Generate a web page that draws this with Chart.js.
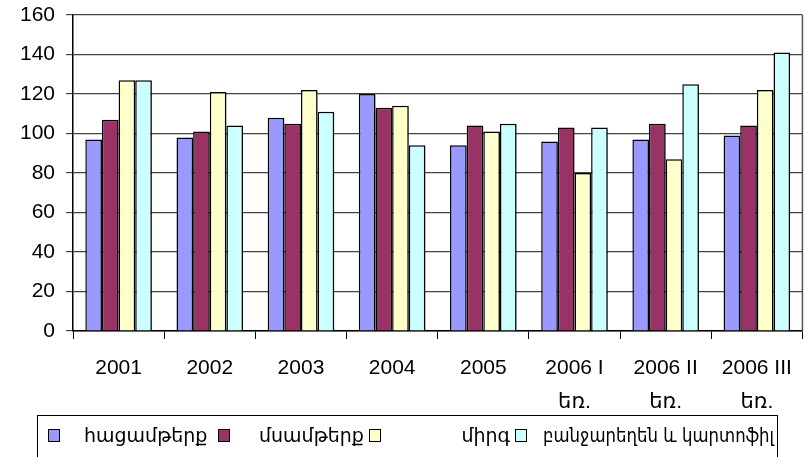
<!DOCTYPE html>
<html>
<head>
<meta charset="utf-8">
<script src="https://cdn.jsdelivr.net/npm/chart.js@4"></script>
<style>
  html, body { margin: 0; padding: 0; background: #fff; overflow: hidden; }
  #wrap { position: relative; width: 805px; height: 457px; }
  #legend {
    position: absolute; left: 37px; top: 415px; width: 741px; height: 50px;
    border: 1px solid #000; box-sizing: border-box;
    font-family: "DejaVu Sans", sans-serif; font-size: 19px; color: #000;
  }
  .box { position: absolute; top: 13px; width: 12px; height: 13px; border: 1.5px solid #000; box-sizing: border-box; }
  .txt { position: absolute; top: 8px; white-space: nowrap; line-height: 22px; transform-origin: 0 50%; }
</style>
</head>
<body>
<div id="wrap">
  <canvas id="chart" width="805" height="457"></canvas>
  <div id="legend"></div>
</div>
<script>
const categories = [
  "2001", "2002", "2003", "2004", "2005",
  ["2006 I", "եռ."], ["2006 II", "եռ."], ["2006 III", "եռ."],
];
const seriesNames = ["հացամթերք", "մսամթերք", "միրգ", "բանջարեղեն և կարտոֆիլ"];
const bread = [97, 98, 108, 120, 94, 96, 97, 99];
const meat = [107, 101, 105, 113, 104, 103, 105, 104];
const fruit = [127, 121, 122, 114, 101, 80, 87, 122];
const vegetables = [127, 104, 111, 94, 105, 103, 125, 141];
const yTicks = [0, 20, 40, 60, 80, 100, 120, 140, 160];

const colors = ["#9999ff", "#993366", "#ffffcc", "#ccffff"];
const seriesValues = [bread, meat, fruit, vegetables];

// legend layout inside the box: marker x, text x, text right edge (or null)
const legendPos = [[10, 46, null], [180, 221, null], [331, null, 472], [477, 505, null]];

function buildLegend() {
  const legend = document.getElementById("legend");
  seriesNames.forEach((name, i) => {
    const [boxX, textX, textRight] = legendPos[i];
    const box = document.createElement("div");
    box.className = "box";
    box.style.left = `${boxX}px`;
    box.style.background = colors[i];
    legend.appendChild(box);
    const text = document.createElement("div");
    text.className = "txt";
    text.textContent = name;
    legend.appendChild(text);
    const w = text.getBoundingClientRect().width;
    text.style.left = `${textRight == null ? textX : textRight - w}px`;
    // last entry is too wide in DejaVu, keep it inside the frame
    if (i === 3) text.style.transform = `scaleX(${231 / w})`;
  });
}

const frame = {
  id: "frame",
  beforeDatasetsDraw(chart) {
    const { ctx } = chart;
    ctx.save();
    ctx.shadowColor = "rgba(0, 0, 0, 0.28)";
    ctx.shadowOffsetX = 2;
    ctx.shadowOffsetY = 1;
    ctx.shadowBlur = 0;
  },
  afterDatasetsDraw(chart) {
    const { ctx, chartArea } = chart;
    ctx.restore();
    ctx.save();
    ctx.strokeStyle = "#555";
    ctx.lineWidth = 1.5;
    ctx.beginPath();
    ctx.moveTo(chartArea.right, chartArea.top);
    ctx.lineTo(chartArea.right, chartArea.bottom);
    ctx.stroke();
    ctx.restore();
  },
};

new Chart(document.getElementById("chart"), {
  type: "bar",
  data: {
    labels: categories,
    datasets: seriesNames.map((name, i) => ({
      label: name,
      data: seriesValues[i],
      backgroundColor: colors[i],
      borderColor: "#000",
      borderWidth: 1.5,
      categoryPercentage: 0.73,
      barPercentage: 1.0,
    })),
  },
  options: {
    responsive: false,
    animation: false,
    layout: { padding: { top: 15, right: 2, bottom: 42, left: 0 } },
    plugins: { legend: { display: false }, tooltip: { enabled: false } },
    scales: {
      x: {
        grid: { drawOnChartArea: false, drawTicks: true, tickLength: 8, color: "#000", offset: true },
        border: { color: "#000", width: 1.5 },
        ticks: {
          color: "#000",
          padding: 13,
          font: { family: "Liberation Sans, DejaVu Sans, sans-serif", size: 21, lineHeight: 1.58 },
          maxRotation: 0,
          autoSkip: false,
        },
        afterFit(scale) { scale.height = 84; },
      },
      y: {
        min: 0,
        max: 160,
        afterBuildTicks(scale) { scale.ticks = yTicks.map((v) => ({ value: v })); },
        grid: { color: "#444", lineWidth: 1.2, tickLength: 7 },
        border: { color: "#000", width: 1.5 },
        ticks: {
          color: "#000",
          padding: 11,
          font: { family: "Liberation Sans, DejaVu Sans, sans-serif", size: 21 },
        },
        afterFit(scale) {
          scale.width = 73;
          scale.paddingTop = 0;
          scale.paddingBottom = 0;
        },
      },
    },
  },
  plugins: [frame],
});

buildLegend();
</script>
</body>
</html>
